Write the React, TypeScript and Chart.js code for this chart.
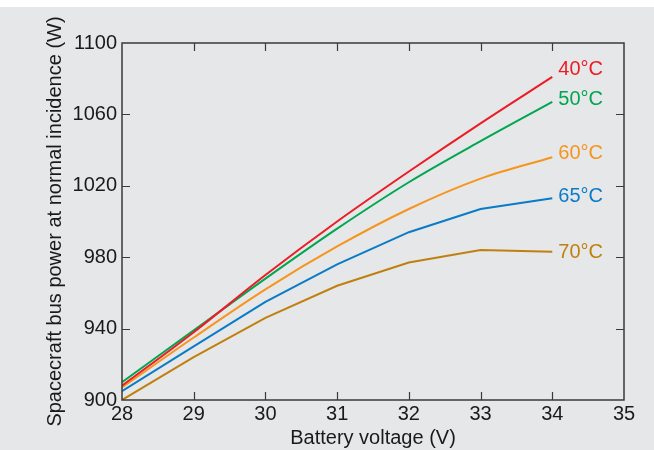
import React, { useEffect, useRef } from "react";
import { Chart, registerables } from "chart.js";

Chart.register(...registerables);

const voltages = [28, 29, 30, 31, 32, 33, 34];
const temps = ["40°C", "50°C", "60°C", "65°C", "70°C"];
const power40 = [908, 938, 970, 1000, 1028, 1055, 1081];
const power50 = [910, 939, 968, 996, 1022, 1045, 1067];
const power60 = [907, 935, 962, 986, 1007, 1024, 1036];
const power65 = [905, 930, 955, 976, 994, 1007, 1013];
const power70 = [900, 924, 946, 964, 977, 984, 983];
const xTicks = [28, 29, 30, 31, 32, 33, 34, 35];
const yTicks = [900, 940, 980, 1020, 1060, 1100];

const colors = ["#ed1c24", "#00a651", "#f7941d", "#0a7bc6", "#c0800f"];
const labelDy = [-7, -2, -4, -2, 1];
const smooth = [true, true, true, false, false];

const FONT = "'Liberation Sans', Arial, sans-serif";

export default function App() {
  const ref = useRef<HTMLCanvasElement | null>(null);
  useEffect(() => {
    if (!ref.current) return;
    const series = [power40, power50, power60, power65, power70];
    const bgPlugin = {
      id: "bg",
      beforeDraw(chart: any) {
        const c = chart.ctx;
        c.save();
        c.fillStyle = "#ffffff";
        c.fillRect(0, 0, chart.width, chart.height);
        c.fillStyle = "#e6e7e9";
        c.fillRect(0, 7, chart.width, chart.height - 7);
        c.restore();
      },
    };
    const framePlugin = {
      id: "frame",
      afterDatasetsDraw(chart: any) {
        const c = chart.ctx;
        const a = chart.chartArea;
        const xs = chart.scales.x;
        const ys = chart.scales.y;
        c.save();
        c.strokeStyle = "#3a3a3a";
        c.lineWidth = 1.5;
        c.strokeRect(a.left, a.top, a.right - a.left, a.bottom - a.top);
        const tl = 8;
        c.beginPath();
        xTicks.slice(1, -1).forEach((v) => {
          const px = Math.round(xs.getPixelForValue(v)) + 0.5;
          c.moveTo(px, a.bottom);
          c.lineTo(px, a.bottom - tl);
          c.moveTo(px, a.top);
          c.lineTo(px, a.top + tl);
        });
        yTicks.slice(1, -1).forEach((v) => {
          const py = Math.round(ys.getPixelForValue(v)) + 0.5;
          c.moveTo(a.left, py);
          c.lineTo(a.left + tl, py);
          c.moveTo(a.right, py);
          c.lineTo(a.right - tl, py);
        });
        c.lineWidth = 1.2;
        c.stroke();
        // series labels
        c.font = `20px ${FONT}`;
        c.textBaseline = "middle";
        c.textAlign = "left";
        series.forEach((s, i) => {
          const last = s.length - 1;
          const px = xs.getPixelForValue(voltages[last]);
          const py = ys.getPixelForValue(s[last]);
          c.fillStyle = colors[i];
          c.fillText(temps[i], px + 6, py + labelDy[i]);
        });
        c.restore();
      },
    };
    const chart = new Chart(ref.current, {
      type: "line",
      data: {
        datasets: series.map((s, i) => ({
          label: temps[i],
          data: s.map((y, j) => ({ x: voltages[j], y })),
          borderColor: colors[i],
          borderWidth: 2,
          pointRadius: 0,
          fill: false,
          cubicInterpolationMode: smooth[i] ? "monotone" : "default",
          tension: 0,
        })),
      },
      options: {
        animation: false,
        responsive: false,
        layout: { padding: { left: 0, right: 30, top: 43, bottom: 0 } },
        plugins: { legend: { display: false }, tooltip: { enabled: false } },
        scales: {
          x: {
            type: "linear",
            min: 28,
            max: 35,
            afterBuildTicks(scale: any) {
              scale.ticks = xTicks.map((v) => ({ value: v }));
            },
            afterFit(scale: any) {
              scale.height = 50;
            },
            grid: { display: false, drawTicks: false },
            border: { display: false },
            ticks: {
              color: "#1a1a1a",
              font: { family: FONT, size: 20 },
              padding: 2,
              maxRotation: 0,
              autoSkip: false,
              callback: (v: any) => String(v),
            },
            title: {
              display: true,
              text: "Battery voltage (V)",
              color: "#1a1a1a",
              font: { family: FONT, size: 20 },
              padding: { top: 0, bottom: 0 },
            },
          },
          y: {
            type: "linear",
            min: 900,
            max: 1100,
            afterBuildTicks(scale: any) {
              scale.ticks = yTicks.map((v) => ({ value: v }));
            },
            afterFit(scale: any) {
              scale.width = 122;
            },
            grid: { display: false, drawTicks: false },
            border: { display: false },
            ticks: {
              color: "#1a1a1a",
              font: { family: FONT, size: 20 },
              padding: 5,
              autoSkip: false,
              callback: (v: any) => String(v),
            },
            title: {
              display: true,
              text: "Spacecraft bus power at normal incidence (W)",
              color: "#1a1a1a",
              font: { family: FONT, size: 20 },
              padding: { top: 43, bottom: 0 },
            },
          },
        },
      } as any,
      plugins: [bgPlugin, framePlugin],
    });
    return () => chart.destroy();
  }, []);
  return (
    <div style={{ position: "absolute", left: 0, top: 0, width: 654, height: 450 }}>
      <canvas ref={ref} width={654} height={450} />
    </div>
  );
}
